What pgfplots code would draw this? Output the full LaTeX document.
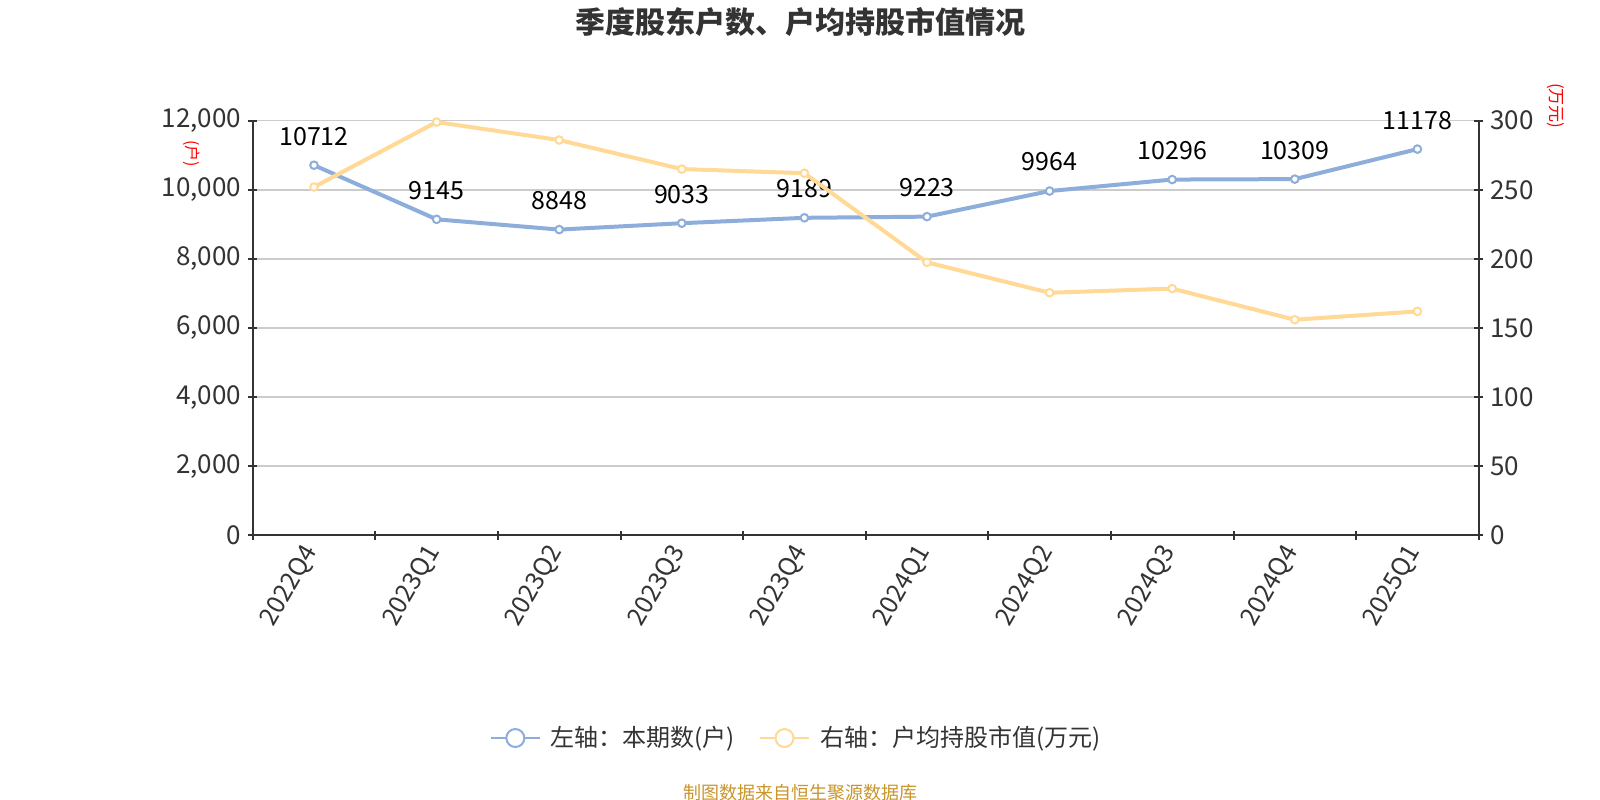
\documentclass[border=0pt]{standalone}
\usepackage{pgfplots}
\pgfplotsset{compat=1.18}
\usepackage{fontspec}
\setmainfont{Noto Sans CJK SC}

\definecolor{bluec}{HTML}{8DADDB}
\definecolor{orangec}{HTML}{FFD995}
\definecolor{axisc}{HTML}{333333}
\definecolor{gridc}{HTML}{CCCCCC}
\definecolor{srcc}{HTML}{C9942A}

\newcommand{\fs}[1]{\fontsize{#1}{1.2\dimexpr#1\relax}\selectfont}

\pgfplotsset{
  base/.style={
    scale only axis, width=613bp, height=207.3bp,
    at={(126.35bp,132.35bp)}, anchor=south west,
    xmin=-0.5, xmax=9.5,
    /pgf/number format/assume math mode=true,
    tick align=outside, major tick length=4.5bp,
    tick style={draw=axisc, line width=1bp},
    axis line style={draw=axisc, line width=1bp},
    tick label style={font=\fs{13bp}, text=axisc},
  },
  noarrows/.style={
    x axis line style={-}, y axis line style={-},
    every outer x axis line/.append style={-},
    every outer y axis line/.append style={-},
    every inner x axis line/.append style={-},
    every inner y axis line/.append style={-},
  },
  legend image code/.code={
    \draw[#1, line width=1bp] (0bp,0bp) -- (24.5bp,0bp);
    \draw[#1, line width=1bp, fill=white] (12.25bp,0bp) circle (4.5bp);
  },
}

\begin{document}
\begin{tikzpicture}
\path[use as bounding box] (0,0) rectangle (800bp,400bp);

\begin{axis}[base,
  axis x line=bottom, axis y line=left, noarrows,
  ymin=0, ymax=12000, ytick={0,2000,...,12000},
  scaled y ticks=false,
  yticklabel style={/pgf/number format/1000 sep={,}},
  ymajorgrids, grid style={draw=gridc, line width=0.75bp},
  xtick={-0.5,0.5,...,9.5}, xticklabels={},
  extra x ticks={0,1,2,3,4,5,6,7,8,9},
  extra x tick labels={2022Q4,2023Q1,2023Q2,2023Q3,2023Q4,2024Q1,2024Q2,2024Q3,2024Q4,2025Q1},
  extra x tick style={major tick length=0pt, grid=none,
    xticklabel style={xshift=0.4bp, yshift=-3.4bp, rotate=60, anchor=east, font=\fs{12.5bp}}},
  legend style={at={(0.444,-0.489)}, anchor=center, draw=none, fill=none,
    legend columns=2, font=\fs{12bp}, text=axisc,
    /tikz/every odd column/.append style={column sep=3bp},
    /tikz/every even column/.append style={column sep=10bp}},
]
\addplot[color=bluec, line width=2bp, mark=*, mark size=1.9bp,
  mark options={fill=white, line width=1bp},
  nodes near coords={\pgfmathprintnumber[1000 sep={}]{\pgfplotspointmeta}},
  every node near coord/.append style={font=\fs{12.5bp}, text=black, anchor=center, yshift=14.5bp}]
  coordinates {
  (0,10712) (1,9145) (2,8848) (3,9033) (4,9189)
  (5,9223) (6,9964) (7,10296) (8,10309) (9,11178)
};
\addlegendentry{左轴：本期数(户)}
\addlegendimage{color=orangec}
\addlegendentry{右轴：户均持股市值(万元)}
\end{axis}

\begin{axis}[base,
  hide x axis, axis y line=right, noarrows,
  ymin=0, ymax=300, ytick={0,50,...,300},
]
\addplot[color=orangec, line width=2bp, mark=*, mark size=1.9bp,
  mark options={fill=white, line width=1bp}]
  coordinates {
  (0,252) (1,299) (2,286) (3,265) (4,262)
  (5,197.5) (6,175.5) (7,178.5) (8,156) (9,162)
};
\end{axis}

\node[font=\bfseries\fs{15bp}, text=axisc] at (400bp,388.75bp) {季度股东户数、户均持股市值情况};
\node[font=\fs{9bp}, text=srcc] at (400bp,3.5bp) {制图数据来自恒生聚源数据库};
\node[font=\fs{8bp}, text=red, rotate=-90] at (95.75bp,323bp) {(户)};
\node[font=\fs{8.5bp}, text=red, rotate=-90] at (778bp,347bp) {(万元)};
\end{tikzpicture}
\end{document}
